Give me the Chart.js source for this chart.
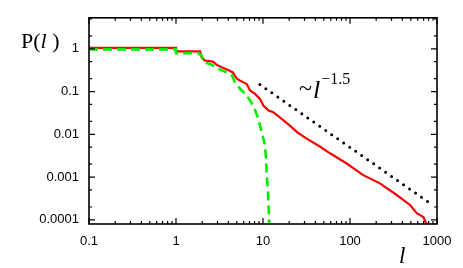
<!DOCTYPE html>
<html>
<head>
<meta charset="utf-8">
<script src="https://cdn.jsdelivr.net/npm/chart.js@4.4.1/dist/chart.umd.min.js"></script>
<style>
  html, body { margin: 0; padding: 0; background: #fff; }
</style>
</head>
<body>
<canvas id="graph" width="463" height="268"></canvas>
<script>
// red (solid) curve
var redL = [0.1, 1, 1, 1.89, 1.97, 2.14, 2.65, 2.94, 3.35, 3.97, 4.5, 5.0, 5.45, 6.5, 7.1, 8.1, 9.2, 10.1, 11.6, 13.1, 16, 20.4, 25, 31.8, 45, 58.9, 91.6, 142, 221, 344, 490, 585, 697, 762];
var redP = [1.05, 1.05, 0.865, 0.865, 0.63, 0.53, 0.5, 0.42, 0.37, 0.32, 0.28, 0.2, 0.18, 0.15, 0.106, 0.088, 0.068, 0.047, 0.036, 0.033, 0.024, 0.016, 0.011, 0.0079, 0.0052, 0.0036, 0.00208, 0.00111, 0.000713, 0.000381, 0.000223, 0.000143, 0.000116, 0.000077];

// green (dashed) curve
var greenL = [0.1, 1, 1, 1.81, 1.97, 2.14, 2.6, 3.06, 3.83, 4.36, 4.77, 5.45, 6.5, 7.75, 8.83, 9.66, 10.5, 10.8, 11.0, 11.4, 11.6, 11.8];
var greenP = [0.97, 0.97, 0.79, 0.79, 0.69, 0.48, 0.42, 0.34, 0.28, 0.245, 0.165, 0.116, 0.081, 0.047, 0.023, 0.0113, 0.0058, 0.003, 0.00122, 0.0005, 0.0002, 0.000077];

// guide line ~ l^-1.5
var guideL = [9.2, 832];
var guideP = [0.146, 0.000245];

// axis ticks
var xTickValues = [0.1, 1, 10, 100, 1000];
var xTickLabels = ['0.1', '1', '10', '100', '1000'];
var yTickValues = [0.0001, 0.001, 0.01, 0.1, 1];
var yTickLabels = ['0.0001', '0.001', '0.01', '0.1', '1'];
var xMinorMult = [2, 3, 4, 5, 6, 7, 8, 9];
var yMinorMult = [2, 5];

function pts(xs, ys) {
    return xs.map(function(x, i) { return {x: x, y: ys[i]}; });
}

var frameTicks = {
    id: 'frameTicks',
    afterDatasetsDraw: function(chart) {
        var ctx = chart.ctx;
        var a = chart.chartArea;
        var xs = chart.scales.x, ys = chart.scales.y;
        ctx.save();
        ctx.strokeStyle = '#000';
        ctx.lineWidth = 1.6;
        ctx.strokeRect(a.left, a.top, a.right - a.left, a.bottom - a.top);
        ctx.lineWidth = 1.2;
        ctx.beginPath();
        function xt(v, len) {
            var p = xs.getPixelForValue(v);
            if (p < a.left - 0.5 || p > a.right + 0.5) return;
            ctx.moveTo(p, a.bottom); ctx.lineTo(p, a.bottom - len);
            ctx.moveTo(p, a.top); ctx.lineTo(p, a.top + len);
        }
        function yt(v, len) {
            var p = ys.getPixelForValue(v);
            if (p < a.top - 0.5 || p > a.bottom + 0.5) return;
            ctx.moveTo(a.left, p); ctx.lineTo(a.left + len, p);
            ctx.moveTo(a.right, p); ctx.lineTo(a.right - len, p);
        }
        xTickValues.forEach(function(v) {
            xt(v, 6);
            xMinorMult.forEach(function(m) { xt(v * m, 3); });
        });
        [0.00001].concat(yTickValues).forEach(function(v) {
            yt(v, 6);
            yMinorMult.forEach(function(m) { yt(v * m, 3); });
        });
        ctx.stroke();

        // labels
        ctx.fillStyle = '#000';
        ctx.textBaseline = 'alphabetic';
        ctx.font = '22px "Liberation Serif"';
        var px = 21, py = 48;
        ctx.fillText('P(', px, py);
        px += ctx.measureText('P(').width;
        ctx.font = 'italic 22px "Liberation Serif"';
        ctx.fillText('l', px, py);
        px += ctx.measureText('l').width;
        ctx.font = '22px "Liberation Serif"';
        ctx.fillText(' )', px, py);

        ctx.font = 'italic 23px "Liberation Serif"';
        ctx.fillText('l', 399, 263);

        // slope annotation
        var ax = xs.getPixelForValue(26), ay = ys.getPixelForValue(0.07);
        ctx.font = '24px "Liberation Serif"';
        ctx.fillText('~', ax, ay - 2);
        ax += ctx.measureText('~').width + 1;
        ctx.font = 'italic 26px "Liberation Serif"';
        ctx.fillText('l', ax, ay);
        ax += ctx.measureText('l').width + 1;
        ctx.font = '16px "Liberation Serif"';
        ctx.fillText('\u22121.5', ax, ay - 14);
        ctx.restore();
    }
};

var ctx = document.getElementById('graph');
new Chart(ctx, {
    type: 'scatter',
    data: {
        datasets: [
            {
                label: 'green',
                data: pts(greenL, greenP),
                showLine: true,
                borderColor: '#00ee00',
                borderWidth: 2.6,
                borderDash: [9, 5],
                pointRadius: 0,
                order: 0
            },
            {
                label: 'red',
                data: pts(redL, redP),
                showLine: true,
                borderColor: '#ff0000',
                borderWidth: 2.2,
                pointRadius: 0,
                order: 1
            },
            {
                label: 'guide',
                data: pts(guideL, guideP),
                showLine: true,
                borderColor: '#000',
                borderWidth: 3,
                borderDash: [0, 7.3],
                borderCapStyle: 'round',
                pointRadius: 0,
                order: 2
            }
        ]
    },
    options: {
        responsive: false,
        animation: false,
        devicePixelRatio: 1,
        layout: { padding: { top: 17, right: 26, left: 0, bottom: 0 } },
        plugins: {
            legend: { display: false },
            tooltip: { enabled: false }
        },
        scales: {
            x: {
                type: 'logarithmic',
                min: 0.1,
                max: 1000,
                afterBuildTicks: function(scale) {
                    scale.ticks = xTickValues.map(function(v) { return {value: v}; });
                },
                afterFit: function(scale) { scale.height = 44; },
                grid: { display: false, drawTicks: false },
                border: { display: false },
                ticks: {
                    autoSkip: false,
                    maxRotation: 0,
                    padding: 10,
                    color: '#000',
                    font: { family: '"Liberation Sans", Arial', size: 13 },
                    callback: function(v, i) { return xTickLabels[i]; }
                }
            },
            y: {
                type: 'logarithmic',
                min: 0.00008,
                max: 5.3,
                afterBuildTicks: function(scale) {
                    scale.ticks = yTickValues.map(function(v) { return {value: v}; });
                },
                afterFit: function(scale) { scale.width = 89; },
                grid: { display: false, drawTicks: false },
                border: { display: false },
                ticks: {
                    autoSkip: false,
                    padding: 10,
                    color: '#000',
                    font: { family: '"Liberation Sans", Arial', size: 13 },
                    callback: function(v, i) { return yTickLabels[i]; }
                }
            }
        }
    },
    plugins: [frameTicks]
});
</script>
</body>
</html>
